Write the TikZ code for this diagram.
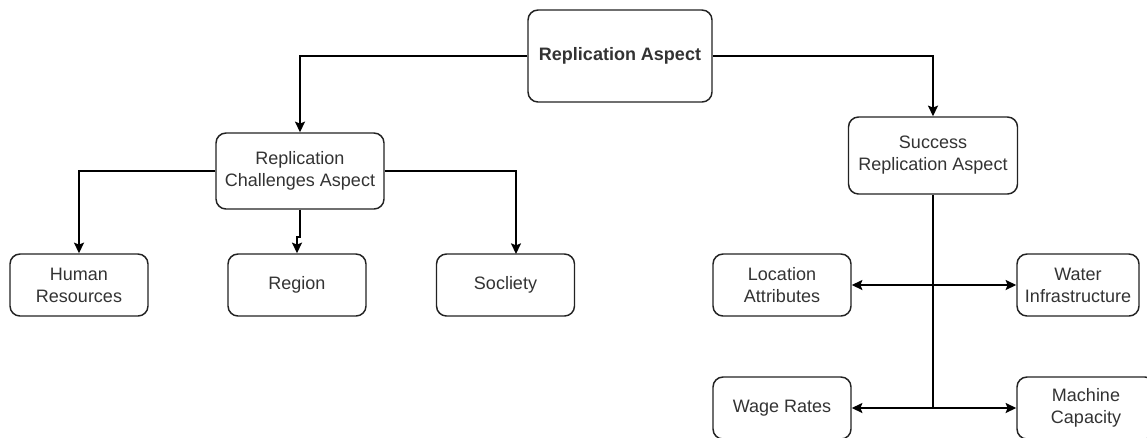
\documentclass[tikz,border=0pt]{standalone}
\usepackage{fontspec}
\setmainfont{Liberation Sans}
\usetikzlibrary{arrows.meta,calc}
\definecolor{txt}{HTML}{333333}
\definecolor{edge}{HTML}{222222}
\tikzset{
  box/.style={draw=edge, line width=1.1pt, rounded corners=7.5pt, fill=white,
    text=txt, align=center, font=\fontsize{13.5}{16.5}\selectfont, inner sep=0pt},
  leaf/.style={box, minimum width=103.5pt, minimum height=46.5pt},
  conn/.style={draw=black, line width=1.1pt},
  arr/.style={conn, -{Stealth[length=8pt,width=7.5pt,inset=1.5pt]}},
}
\begin{document}
\begin{tikzpicture}[x=0.75pt,y=-0.75pt]
\useasboundingbox (0,0) rectangle (1147,437);
\clip (0,0) rectangle (1147,437);
\node[box, minimum width=138pt, minimum height=69pt, font=\bfseries\fontsize{13.5}{16.5}\selectfont] (ra) at (620,56) {Replication Aspect};
\node[box, minimum width=126pt, minimum height=57pt] (rca) at (300,171) {Replication\\Challenges Aspect};
\node[box, minimum width=126.75pt, minimum height=57.75pt] (sra) at (933,155.5) {Success\\Replication Aspect};
\node[leaf] (hr) at (79,285) {Human\\Resources};
\node[leaf] (reg) at (297,285) {Region};
\node[leaf] (soc) at (505.5,285) {Socliety};
\node[leaf] (loc) at (782,285) {Location\\Attributes};
\node[leaf, minimum width=91.5pt] (wat) at (1078,285) {Water\\Infrastructure};
\node[leaf] (wage) at (782,408) {Wage Rates};
\node[leaf] (mach) at (1086,408) {Machine\\Capacity};
% connectors
\draw[arr] (ra.west) -| (rca.north);
\draw[arr] (ra.east) -| (sra.north);
\draw[arr] (rca.west) -| (hr.north);
\draw[arr] (rca.south) -- (rca.south |- 0,237) -| (reg.north);
\coordinate (socin) at (516,254);
\draw[arr] (rca.east) -| (socin);
\coordinate (j1) at (sra.south |- loc.east);
\coordinate (j2) at (sra.south |- wage.east);
\draw[conn] (sra.south) -- (j2);
\draw[arr] (j1) -- (loc.east);
\draw[arr] (j1) -- (wat.west);
\draw[arr] (j2) -- (wage.east);
\draw[arr] (j2) -- (mach.west);
\end{tikzpicture}
\end{document}
